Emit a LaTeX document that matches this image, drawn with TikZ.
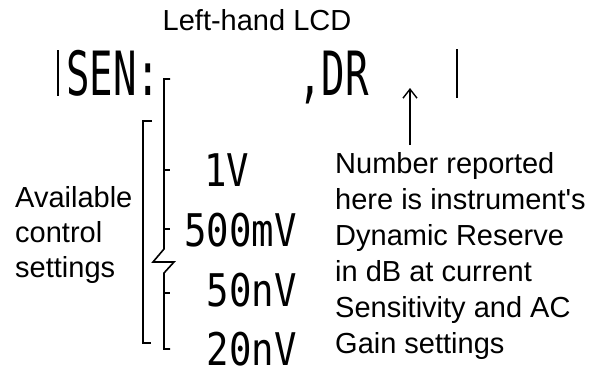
\documentclass[tikz,border=0pt]{standalone}
\usepackage{fontspec}
\newfontfamily\arialfont{Liberation Sans}
\newfontfamily\lcdbig[FakeStretch=0.64]{DejaVu Sans Mono}
\newfontfamily\lcdsmall[FakeStretch=0.83]{DejaVu Sans Mono}
\usetikzlibrary{arrows.meta}

\begin{document}
\begin{tikzpicture}[
  x=1pt, y=-1pt,
  >={Straight Barb[length=9pt,width=14pt]},
  caption/.style={inner sep=0pt, align=left,
    font=\arialfont\fontsize{29}{35}\selectfont},
  lcd/.style={inner sep=0pt, font=\lcdbig\fontsize{61}{64}\selectfont},
  setting/.style={inner sep=0pt, anchor=base east,
    font=\lcdsmall\fontsize{45}{50}\selectfont},
  lcdbar/.style={line width=1.6pt},
]
\useasboundingbox (0,0) rectangle (598,373);

% display line
\node[caption, anchor=base] (title) at (257,30) {Left-hand LCD};
\node[lcd, anchor=base west] (sen) at (66,95) {SEN:};
\node[lcd, anchor=base east] (dr) at (369,95) {,DR};
\draw[lcdbar] (58,50) -- (58,96);
\draw[lcdbar] (457,49) -- (457,98);

% settings
\node[setting, anchor=base west] (v1) at (204,186) {1V};
\node[setting] (v500) at (297,246) {500mV};
\node[setting] (v50)  at (297,306) {50nV};
\node[setting] (v20)  at (297,365) {20nV};

\draw[lcdbar] (152,121) -- (143,121) -- (143,343) -- (151,343);
\draw[lcdbar] (170,79) -- (164,79) -- (164,249) -- (153,262)
  -- (174,262) -- (164,273) -- (164,349) -- (170,349);
\foreach \y in {170,229,293}
  \draw[lcdbar] (164,\y) -- (170,\y);

\node[caption, anchor=base west] (avail) at (15,277)
  {Available\\control\\settings};

% dynamic reserve note
\node[caption, anchor=base west,
      font=\arialfont\fontsize{29}{36}\selectfont] (note) at (335,353)
  {Number reported\\here is instrument's\\Dynamic Reserve\\in dB at current\\Sensitivity and AC\\Gain settings};
\coordinate (tail) at (410,145);
\coordinate (tip) at (410,88);
\draw[->, line width=1.4pt] (tail) -- (tip);

\end{tikzpicture}
\end{document}
